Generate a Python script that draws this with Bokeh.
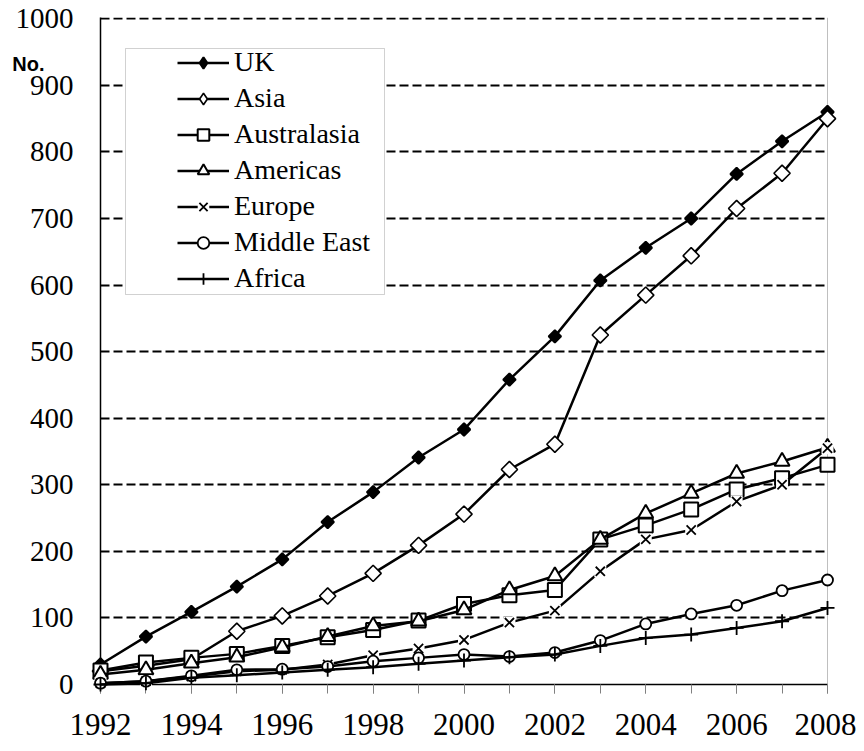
import math
from bokeh.plotting import figure
from bokeh.models import (Range1d, FixedTicker, Legend, LegendItem, BoxAnnotation, Span)
from bokeh.core.properties import value
from bokeh.embed import file_html
from bokeh.resources import INLINE

years = list(range(1992, 2009))
label_years = list(range(1992, 2009, 2))
y_ticks = list(range(0, 1001, 100))
grid_ticks = list(range(100, 1001, 100))

uk = [30, 72, 109, 147, 188, 244, 289, 341, 383, 458, 523, 607, 656, 700, 767, 816, 860]
asia = [20, 28, 38, 80, 103, 133, 167, 209, 256, 323, 361, 525, 585, 644, 715, 768, 850]
australasia = [21, 33, 40, 46, 58, 71, 82, 96, 121, 134, 142, 218, 239, 263, 293, 310, 330]
americas = [15, 22, 32, 41, 56, 72, 88, 95, 112, 142, 163, 218, 257, 287, 317, 335, 356]
europe = [2, 5, 12, 20, 22, 30, 44, 54, 67, 93, 111, 170, 218, 232, 275, 300, 355]
middle_east = [2, 5, 13, 22, 23, 27, 35, 40, 45, 42, 48, 66, 91, 106, 119, 141, 157]
africa = [0, 2, 10, 14, 18, 22, 26, 31, 36, 41, 45, 58, 70, 75, 85, 95, 115]

SERIF = "Liberation Serif"

p = figure(width=856, height=749, output_backend="svg", toolbar_location=None,
           x_range=Range1d(1992, 2008), y_range=Range1d(0, 1002),
           min_border_left=100, min_border_right=29, min_border_top=17,
           min_border_bottom=65)
p.outline_line_color = None
p.background_fill_color = "white"
p.border_fill_color = "white"

p.xgrid.visible = False
p.ygrid.ticker = FixedTicker(ticks=grid_ticks)
p.ygrid.grid_line_color = "black"
p.ygrid.grid_line_width = 2
p.ygrid.grid_line_dash = "9 4"

xa = p.xaxis[0]
xa.ticker = FixedTicker(ticks=label_years, minor_ticks=years)
xa.major_label_overrides = {y: str(y) for y in label_years}
xa.major_tick_in = 0
xa.major_tick_out = 9
xa.minor_tick_in = 0
xa.minor_tick_out = 9
xa.major_tick_line_color = "#808080"
xa.minor_tick_line_color = "#808080"
xa.axis_line_color = "black"
xa.axis_line_width = 1.5
xa.major_label_text_font = SERIF
xa.major_label_text_font_size = "31px"
xa.major_label_text_color = "black"
xa.major_label_standoff = 20

ya = p.yaxis[0]
ya.ticker = FixedTicker(ticks=y_ticks, minor_ticks=[])
ya.major_label_overrides = {t: str(t) for t in y_ticks}
ya.major_tick_in = 0
ya.major_tick_out = 0
ya.minor_tick_in = 0
ya.minor_tick_out = 0
ya.axis_line_color = "black"
ya.axis_line_width = 1.5
ya.major_label_text_font = SERIF
ya.major_label_text_font_size = "29px"
ya.major_label_text_color = "black"
ya.major_label_standoff = 27

p.add_layout(Span(location=2008, dimension="height", line_color="#808080", line_width=1))

items = []

def series(name, vals, marker, size, fill, lw=2.5, mlw=2, angle=0.0,
           backing=None, legend_marker=None):
    rs = []
    r = p.line(years, vals, line_color="black", line_width=lw)
    r.level = "overlay"
    rs.append(r)
    if backing:
        b = p.scatter(years, vals, marker="square", size=backing, fill_color="white",
                      line_color=None)
        b.level = "overlay"
        rs.append(b)
    m = p.scatter(years, vals, marker=marker, size=size, fill_color=fill,
                  line_color="black", line_width=mlw, angle=angle)
    m.level = "overlay"
    if legend_marker:
        lm = p.scatter(years, vals, marker=legend_marker, fill_color=fill,
                       line_color="black", line_width=mlw)
        lm.visible = False
        rs.append(lm)
    else:
        rs.append(m)
    items.append(LegendItem(label=name, renderers=rs))

series("UK", uk, "square", 8.8, "black", angle=math.pi / 4, legend_marker="diamond")
series("Asia", asia, "square", 11.5, "white", mlw=1.6, angle=math.pi / 4,
       legend_marker="diamond")
series("Australasia", australasia, "square", 14, "white")
series("Americas", americas, "triangle", 15, "white")
series("Europe", europe, "x", 13, None, mlw=1.8, backing=12)
series("Middle East", middle_east, "circle", 11, "white", mlw=1.8)
series("Africa", africa, "cross", 14, None, mlw=1.8)

box = BoxAnnotation(left=25, right=284, top=636, bottom=390,
                    left_units="screen", right_units="screen",
                    top_units="screen", bottom_units="screen",
                    fill_color="white", fill_alpha=1.0,
                    line_color="#666666", line_width=1)
p.add_layout(box)

legend = Legend(items=items, location=(71, 384), padding=6, spacing=4,
                label_height=29, glyph_height=29, glyph_width=52, label_standoff=5,
                label_text_font=SERIF, label_text_font_size="28px",
                label_text_color="black", border_line_alpha=0,
                background_fill_alpha=0, margin=0)
p.add_layout(legend, "center")

# unit label "No." placed left of the value axis, near its top
unit_x = [1990.06]
unit_y = [932]
t = p.text(x=unit_x, y=unit_y, text=["No."], text_font=value("Liberation Sans"),
           text_font_style="bold", text_font_size="20px", text_color="black",
           text_baseline="alphabetic", text_align="left")
t.level = "overlay"

open("out.html", "w").write(file_html(p, INLINE))
